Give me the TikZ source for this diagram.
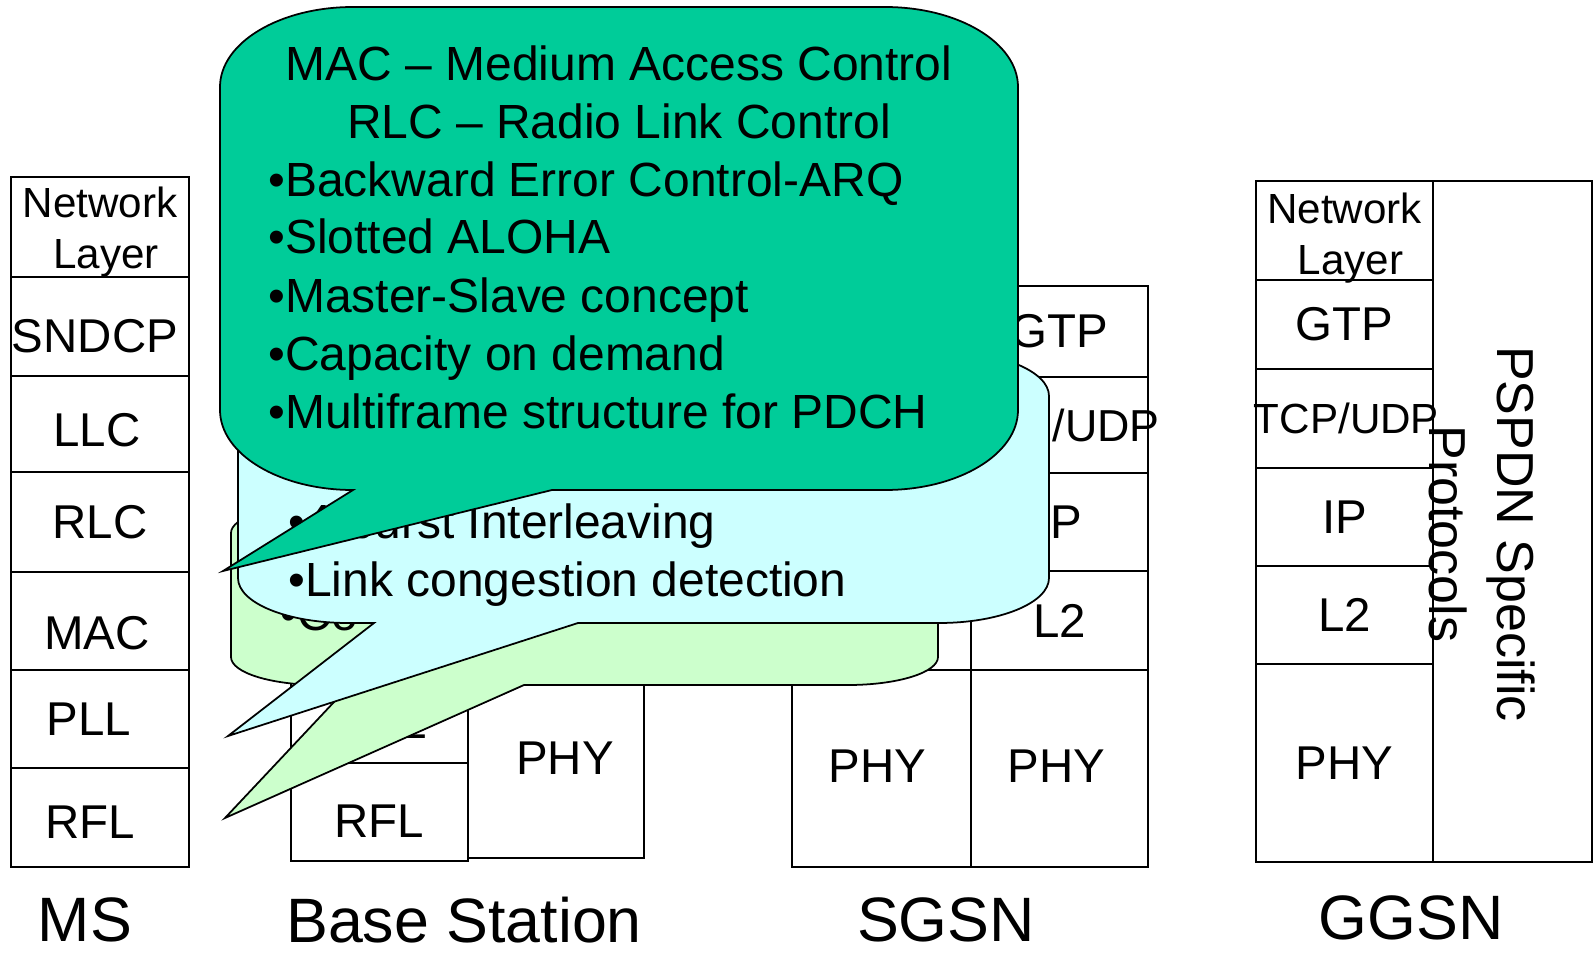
\documentclass[tikz,border=0pt]{standalone}
\usepackage{fontspec}
\setmainfont{Liberation Sans}

\definecolor{macteal}{RGB}{0,204,153}
\definecolor{pllcyan}{RGB}{204,255,255}
\definecolor{rflgreen}{RGB}{204,255,204}

\tikzset{
  layer/.style={draw, line width=1pt},
  lbl/.style={inner sep=0pt, font=\fontsize{27}{30}\selectfont},
  smalllbl/.style={inner sep=0pt, align=center, font=\fontsize{24}{29}\selectfont},
  station/.style={inner sep=0pt, font=\fontsize{35.7}{40}\selectfont},
  bubble/.style={draw, line width=1pt},
  btext/.style={inner sep=0pt, font=\fontsize{27.3}{33}\selectfont},
}

% one protocol layer: box and its label
\newcommand\layer[7][]{%
  \draw[layer] (#3,#4) rectangle (#5,#6);
  \node[lbl,#1] (#2) at ({(#3+#5)/2},{(#4+#6)/2}) {#7};}

\begin{document}
\begin{tikzpicture}[x=0.02cm, y=-0.02cm]
  \useasboundingbox (0,0) rectangle (1595,956);

  % MS stack
  \layer[smalllbl, shift={(0,5)}]{ms-net}{11}{177}{189}{277}{Network\\\ Layer}
  \layer[shift={(-5,10)}]{ms-sndcp}{11}{277}{189}{376}{SNDCP}
  \layer[shift={(-3,6)}]{ms-llc}{11}{376}{189}{472}{LLC}
  \layer{ms-rlc}{11}{472}{189}{572}{RLC}
  \layer[shift={(-3,12)}]{ms-mac}{11}{572}{189}{670}{MAC}
  \layer[shift={(-11,0)}]{ms-pll}{11}{670}{189}{768}{PLL}
  \layer[shift={(-10,5)}]{ms-rfl}{11}{768}{189}{867}{RFL}

  % Base station stack
  \layer[shift={(5,8)}]{bs-pll}{291}{665}{468}{763}{PLL}
  \layer[shift={(0,9)}]{bs-rfl}{291}{763}{468}{861}{RFL}
  \layer[shift={(9,-3)}]{bs-phy}{468}{665}{644}{858}{PHY}

  % SGSN stack
  \layer{sgsn-gtp}{971}{286}{1148}{377}{GTP}
  \layer[font=\fontsize{25.5}{30}\selectfont, shift={(2,0)}]{sgsn-tcp}{971}{377}{1148}{473}{TCP/UDP}
  \layer{sgsn-ip}{971}{473}{1148}{571}{IP}
  \layer{sgsn-l2}{971}{571}{1148}{670}{L2}
  \layer{sgsn-ns}{792}{571}{971}{670}{}
  \layer[shift={(-4,-2)}]{sgsn-phya}{792}{670}{971}{867}{PHY}
  \layer[shift={(-3,-2)}]{sgsn-phyb}{971}{670}{1148}{867}{PHY}

  % GGSN stack
  \layer[smalllbl, shift={(0,8)}]{ggsn-net}{1256}{181}{1433}{280}{Network\\\ Layer}
  \layer{ggsn-gtp}{1256}{280}{1433}{369}{GTP}
  \layer[smalllbl, shift={(2,0)}]{ggsn-tcp}{1256}{369}{1433}{468}{TCP/UDP}
  \layer{ggsn-ip}{1256}{468}{1433}{566}{IP}
  \layer{ggsn-l2}{1256}{566}{1433}{664}{L2}
  \layer{ggsn-phy}{1256}{664}{1433}{862}{PHY}
  \draw[layer] (1433,181) rectangle (1592,862);
  \node[inner sep=0pt, rotate=-90, align=center,
        font=\fontsize{29.6}{39}\selectfont] (pspdn) at (1482,534)
        {PSPDN Specific\\Protocols};

  % Station names
  \node[station] (ms) at (85,920) {MS};
  \node[station] (bs) at (464,920) {Base Station};
  \node[station] (sgsn) at (946,920) {SGSN};
  \node[station] (ggsn) at (1411,918) {GGSN};

  % RFL callout
  \draw[bubble, fill=rflgreen] (231,533) .. controls (231,517.5) and (270.3,505) .. (321,505)
    -- (848,505) .. controls (897.7,505) and (938,517.5) .. (938,533)
    -- (938,657) .. controls (938,672.5) and (897.7,685) .. (848,685)
    -- (524,685) -- (225,818) -- (350,685)
    -- (321,685) .. controls (270.3,685) and (231,672.5) .. (231,657) -- cycle;
  \node[btext, anchor=base west] (rfl-co) at (280,630) {•Co};

  % PLL callout
  \draw[bubble, fill=pllcyan] (238,396) .. controls (238,371.1) and (287.2,351) .. (348,351)
    -- (939,351) .. controls (999.8,351) and (1049,371.1) .. (1049,396)
    -- (1049,578) .. controls (1049,602.9) and (999.8,623) .. (939,623)
    -- (578,623) -- (228,736) -- (374,623)
    -- (348,623) .. controls (287.2,623) and (238,602.9) .. (238,578) -- cycle;
  \node[btext, anchor=base west] (burst) at (288,538) {•4-burst Interleaving};
  \node[btext, anchor=base west] (congest) at (288,596) {•Link congestion detection};

  % RLC/MAC callout
  \draw[bubble, fill=macteal] (220,87) .. controls (220,42.8) and (279.5,7) .. (353,7)
    -- (885,7) .. controls (958.5,7) and (1018,42.8) .. (1018,87)
    -- (1018,410) .. controls (1018,454.2) and (958.5,490) .. (885,490)
    -- (552,490) -- (223,571) -- (353,490)
    .. controls (279.5,490) and (220,454.2) .. (220,410) -- cycle;
  \node[btext, anchor=base] (mac-title) at (619,81) {MAC – Medium Access Control};
  \node[btext, anchor=base] (rlc-title) at (619,139) {RLC – Radio Link Control};
  \node[btext, anchor=base west] (arq) at (268,197) {•Backward Error Control-ARQ};
  \node[btext, anchor=base west] (aloha) at (268,254) {•Slotted ALOHA};
  \node[btext, anchor=base west] (master) at (268,312) {•Master-Slave concept};
  \node[btext, anchor=base west] (capacity) at (268,370) {•Capacity on demand};
  \node[btext, anchor=base west] (multiframe) at (268,428) {•Multiframe structure for PDCH};
\end{tikzpicture}
\end{document}
